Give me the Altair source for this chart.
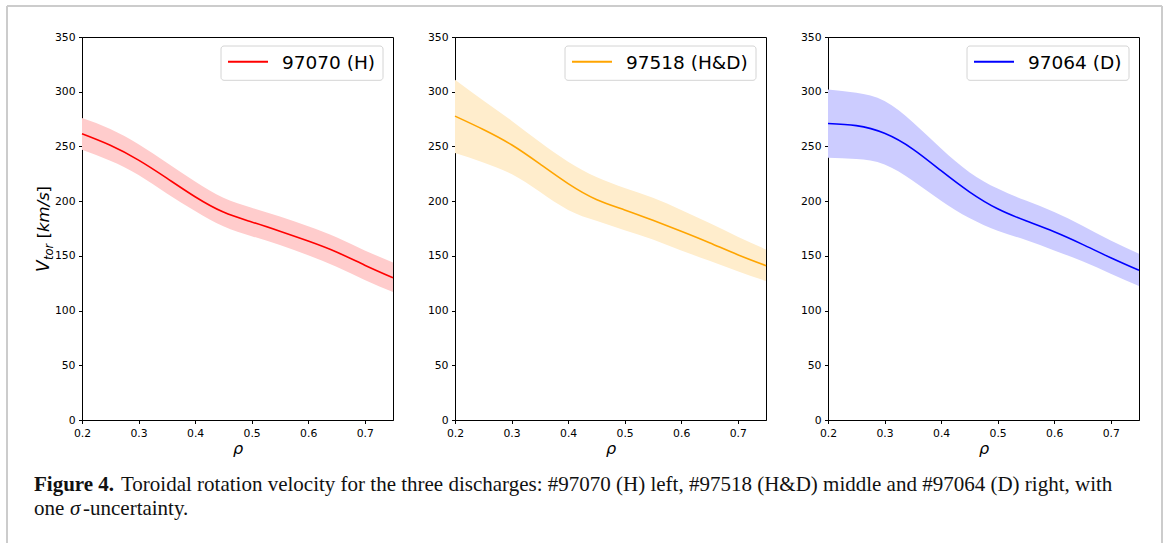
import altair as alt
import pandas as pd

# ---------------- data ----------------
rho = [0.20, 0.25, 0.30, 0.35, 0.40, 0.45, 0.50, 0.55, 0.60, 0.65, 0.70, 0.75]

h_mid = [261.5, 251.0, 237.5, 221.0, 204.0, 190.0, 181.0, 172.5, 163.5, 153.5, 141.5, 130.0]
h_lo = [247.0, 237.0, 224.0, 207.0, 191.0, 177.0, 168.0, 160.0, 150.5, 140.0, 128.0, 117.0]
h_hi = [276.0, 266.0, 252.0, 235.0, 218.0, 203.0, 194.0, 186.0, 177.0, 167.0, 155.0, 144.0]

hd_mid = [277.7, 265.5, 251.5, 234.0, 216.0, 201.5, 192.0, 182.5, 172.5, 162.0, 151.0, 141.0]
hd_lo = [244.0, 235.4, 224.7, 208.5, 192.0, 182.0, 173.5, 165.0, 155.0, 145.5, 136.0, 127.0]
hd_hi = [311.0, 292.0, 273.5, 254.0, 236.0, 222.0, 212.0, 203.0, 192.0, 180.0, 167.5, 155.8]

d_mid = [271.0, 269.0, 262.0, 247.6, 227.8, 208.5, 193.0, 182.0, 172.0, 160.5, 148.3, 136.8]
d_lo = [239.7, 238.5, 233.6, 218.6, 200.3, 184.5, 173.0, 164.5, 155.0, 145.0, 133.7, 122.4]
d_hi = [302.0, 299.0, 291.5, 272.0, 248.0, 226.5, 211.5, 200.5, 190.0, 177.5, 164.0, 152.0]

labels = ["97070 (H)", "97518 (H&D)", "97064 (D)"]
line_colors = ["#ff0000", "#ffa500", "#0000ff"]
band_colors = ["#ffcccc", "#ffedcc", "#ccccff"]

x_ticks = [0.2, 0.3, 0.4, 0.5, 0.6, 0.7]
y_ticks = [0, 50, 100, 150, 200, 250, 300, 350]

caption_bold = "Figure 4."
caption_rest = ("Toroidal rotation velocity for the three discharges: #97070 (H) left, "
                "#97518 (H&D) middle and #97064 (D) right, with")
caption_line2 = ["one", "σ", "-uncertainty."]

W, H = 311, 383
legend_widths = [162, 191, 162]


def text_layer(txt, x, y, **kw):
    return alt.Chart(pd.DataFrame({"t": [txt]})).mark_text(**kw).encode(
        text="t:N", x=alt.value(x), y=alt.value(y))


def panel(i, mid, lo, hi, first=False):
    df = pd.DataFrame({"rho": rho, "v": mid, "lo": lo, "hi": hi})
    xs = alt.Scale(domain=[0.2, 0.75], nice=False, zero=False)
    ys = alt.Scale(domain=[0, 350], nice=False)
    xax = alt.Axis(values=x_ticks, format=".1f", title="ρ")
    yax = alt.Axis(values=y_ticks, format="d", title=None)
    band = alt.Chart(df).mark_area(color=band_colors[i], interpolate="natural").encode(
        x=alt.X("rho:Q", scale=xs, axis=xax),
        y=alt.Y("lo:Q", scale=ys, axis=yax),
        y2="hi:Q",
    )
    line = alt.Chart(df).mark_line(color=line_colors[i], strokeWidth=1.6,
                                   interpolate="natural").encode(
        x=alt.X("rho:Q", scale=xs, axis=xax),
        y=alt.Y("v:Q", scale=ys, axis=yax),
    )
    lw = legend_widths[i]
    left = W - 10 - lw
    box = alt.Chart(pd.DataFrame({"a": [0]})).mark_rect(
        fill="white", stroke="#d4d4d4", strokeWidth=1, cornerRadius=3).encode(
        x=alt.value(left), x2=alt.value(W - 10), y=alt.value(9), y2=alt.value(43.3))
    sample = alt.Chart(pd.DataFrame({"a": [0]})).mark_rule(
        color=line_colors[i], strokeWidth=2).encode(
        x=alt.value(left + 7), x2=alt.value(left + 47), y=alt.value(24.7))
    ltxt = text_layer(labels[i], left + 61, 25.7, font="DejaVu Sans", fontSize=18.5,
                      align="left", baseline="middle", color="black")
    layers = [band, line, box, sample, ltxt]
    if first:
        frame_c = "#cccccc"
        rr = pd.DataFrame({"a": [0]})
        layers += [
            alt.Chart(rr).mark_rule(color=frame_c, strokeWidth=2).encode(
                x=alt.value(-75), y=alt.value(-31), y2=alt.value(506)),
            alt.Chart(rr).mark_rule(color=frame_c, strokeWidth=2).encode(
                x=alt.value(-75), x2=alt.value(1080), y=alt.value(-31)),
            alt.Chart(rr).mark_rule(color=frame_c, strokeWidth=2).encode(
                x=alt.value(1080), y=alt.value(-31), y2=alt.value(506)),
        ]
        # y-axis title  V_tor [km/s]
        tkw = dict(font="DejaVu Sans", angle=270, align="left", baseline="alphabetic",
                   color="black")
        layers += [
            text_layer("V", -33, 235, fontSize=17, fontStyle="italic", **tkw),
            text_layer("tor", -29, 223, fontSize=11.5, fontStyle="italic", **tkw),
            text_layer("[", -33, 201.5, fontSize=16.5, **tkw),
            text_layer("km/s", -33, 195, fontSize=16.5, fontStyle="italic", **tkw),
            text_layer("]", -33, 155.5, fontSize=16.5, **tkw),
        ]
        ckw = dict(font="Liberation Serif", fontSize=21, align="left",
                   baseline="alphabetic", color="#111111")
        layers += [
            text_layer(caption_bold, -48, 454, fontWeight="bold", **ckw),
            text_layer(caption_rest, 39, 454, **ckw),
            text_layer(caption_line2[0], -48, 478, **ckw),
            text_layer(caption_line2[1], -12, 478, fontStyle="italic", **ckw),
            text_layer(caption_line2[2], 1, 478, **ckw),
        ]
    return alt.layer(*layers).properties(width=W, height=H)


p1 = panel(0, h_mid, h_lo, h_hi, first=True)
p2 = panel(1, hd_mid, hd_lo, hd_hi)
p3 = panel(2, d_mid, d_lo, d_hi)

chart = alt.hconcat(p1, p2, p3, spacing=62, bounds="flush").properties(
    padding={"left": 5, "top": 4, "right": 0, "bottom": 0},
    background="white",
).configure_view(
    stroke="black", strokeWidth=1
).configure_axis(
    labelFont="DejaVu Sans", labelFontSize=10.8, labelColor="black",
    labelFlush=False, labelOverlap=False,
    tickColor="black", tickSize=3.5, tickWidth=1, labelPadding=3.5,
    domainColor="black", domainWidth=1, grid=False,
    titleFont="DejaVu Sans", titleFontSize=16, titleFontStyle="italic",
    titleFontWeight="normal", titleColor="black", titlePadding=3,
)

chart.save("out.html", embed_options={"renderer": "svg", "actions": False})
